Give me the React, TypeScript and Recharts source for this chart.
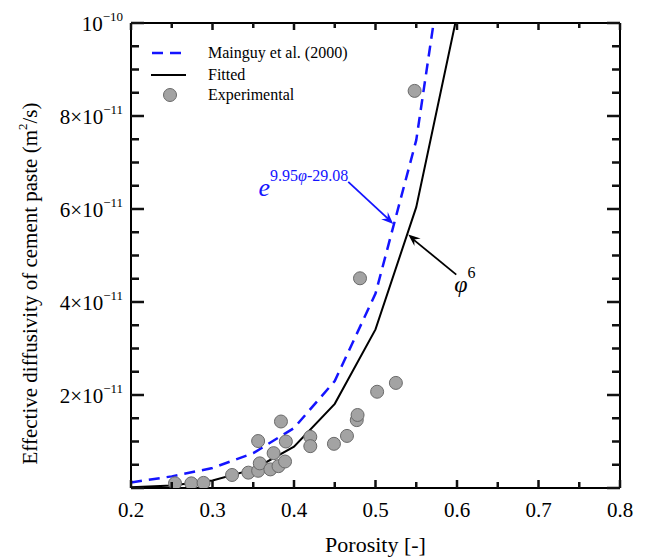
import React from 'react';
import {
  ComposedChart,
  Line,
  Scatter,
  XAxis,
  YAxis,
  Legend,
  Label,
  ReferenceDot
} from 'recharts';

// porosity grid used by both model curves
const phiGrid = [0.2, 0.25, 0.3, 0.35, 0.4, 0.45, 0.5, 0.55, 0.6];
// effective diffusivity, in units of 1e-11 m2/s
const mainguyValues = [0.12, 0.25, 0.43, 0.75, 1.29, 2.3, 4.18, 7.48, 13.4];
const fittedValues = [0.014, 0.053, 0.16, 0.4, 0.89, 1.81, 3.41, 6.04, 10.17];

const expPhi = [
  0.254, 0.274, 0.289, 0.324, 0.344, 0.356, 0.358, 0.356, 0.371, 0.375, 0.381, 0.389,
  0.39, 0.384, 0.42, 0.42, 0.449, 0.465, 0.477, 0.478, 0.502, 0.525, 0.481, 0.548
];
const expD = [
  0.1, 0.1, 0.11, 0.28, 0.33, 0.37, 0.53, 1.01, 0.4, 0.75, 0.47, 0.57,
  1.0, 1.43, 1.1, 0.9, 0.95, 1.12, 1.46, 1.57, 2.07, 2.26, 4.51, 8.54
];

const xTicks = [0.2, 0.25, 0.3, 0.35, 0.4, 0.45, 0.5, 0.55, 0.6, 0.65, 0.7, 0.75, 0.8];
const yTicks = [0, 0.5, 1, 1.5, 2, 2.5, 3, 3.5, 4, 4.5, 5, 5.5, 6, 6.5, 7, 7.5, 8, 8.5, 9, 9.5, 10];
const yMajorLabels: Record<number, [string, string]> = {
  2: ['2×10', '−11'],
  4: ['4×10', '−11'],
  6: ['6×10', '−11'],
  8: ['8×10', '−11'],
  10: ['10', '−10']
};

const mainguyData = phiGrid.map((phi, i) => ({ phi, d: mainguyValues[i] }));
const fittedData = phiGrid.map((phi, i) => ({ phi, d: fittedValues[i] }));
const expData = expPhi.map((phi, i) => ({ phi, d: expD[i] }));

const FONT = "'Liberation Serif', 'Times New Roman', serif";
const BLUE = '#1414ff';
const TICK = '#111111';
const TW = 2.5;

const isMajorX = (v: number) => Math.abs(v * 10 - Math.round(v * 10)) < 1e-6;
const isMajorY = (v: number) => Math.abs(v / 2 - Math.round(v / 2)) < 1e-6;

const BottomTick = (props: any) => {
  const x = Number(props.x);
  const y = Number(props.y);
  const v = Number(props.payload.value);
  const major = isMajorX(v);
  const len = major ? 8 : 6;
  return (
    <g>
      <rect x={x - TW / 2} y={y - len} width={TW} height={len} fill={TICK} />
      {major && (
        <text x={x} y={y + 29} textAnchor="middle" fontSize={21} fontFamily={FONT} fill="#000">
          {v.toFixed(1)}
        </text>
      )}
    </g>
  );
};

const TopTick = (props: any) => {
  const x = Number(props.x);
  const y = Number(props.y);
  const len = isMajorX(Number(props.payload.value)) ? 7 : 5;
  return <rect x={x - TW / 2} y={y} width={TW} height={len} fill={TICK} />;
};

const LeftTick = (props: any) => {
  const x = Number(props.x);
  const y = Number(props.y);
  const v = Number(props.payload.value);
  const len = isMajorY(v) ? 13 : 8;
  const lbl = yMajorLabels[v];
  return (
    <g>
      <rect x={x} y={y - TW / 2} width={len} height={TW} fill={TICK} />
      {lbl && (
        <text x={x - 8} y={y + 8} textAnchor="end" fontSize={21} fontFamily={FONT} fill="#000">
          {lbl[0]}
          <tspan dy={-10} fontSize={13}>{lbl[1]}</tspan>
        </text>
      )}
    </g>
  );
};

const RightTick = (props: any) => {
  const x = Number(props.x);
  const y = Number(props.y);
  const len = isMajorY(Number(props.payload.value)) ? 13 : 8;
  return <rect x={x - len} y={y - TW / 2} width={len} height={TW} fill={TICK} />;
};

const Dot = ({ cx, cy }: any) => (
  <circle cx={cx} cy={cy} r={6.5} fill="#a3a3a3" stroke="#6a6a6a" strokeWidth={1} />
);

const arrowHead = (x: number, y: number, fromX: number, fromY: number, color: string) => {
  const ang = Math.atan2(y - fromY, x - fromX);
  const len = 13;
  const w = 0.38;
  const p1 = [x - len * Math.cos(ang - w), y - len * Math.sin(ang - w)];
  const p2 = [x - len * Math.cos(ang + w), y - len * Math.sin(ang + w)];
  const p3 = [x - len * 0.6 * Math.cos(ang), y - len * 0.6 * Math.sin(ang)];
  return (
    <polygon
      points={`${x},${y} ${p1[0]},${p1[1]} ${p3[0]},${p3[1]} ${p2[0]},${p2[1]}`}
      fill={color}
    />
  );
};

const MainguyNote = ({ cx, cy }: any) => {
  const sx = cx - 45;
  const sy = cy - 42;
  return (
    <g>
      <line x1={sx} y1={sy} x2={cx - 4} y2={cy - 4} stroke={BLUE} strokeWidth={1.8} />
      {arrowHead(cx, cy, sx, sy, BLUE)}
      <text x={cx - 45} y={cy - 28} textAnchor="end" fill={BLUE} fontFamily={FONT}>
        <tspan fontSize={26} fontStyle="italic">e</tspan>
        <tspan dy={-15} fontSize={16}>9.95</tspan>
        <tspan fontSize={16} fontStyle="italic">φ</tspan>
        <tspan fontSize={16}>-29.08</tspan>
      </text>
    </g>
  );
};

const FittedNote = ({ cx, cy }: any) => {
  const sx = cx + 48;
  const sy = cy + 40;
  return (
    <g>
      <line x1={sx} y1={sy} x2={cx + 4} y2={cy + 4} stroke="#000" strokeWidth={1.8} />
      {arrowHead(cx, cy, sx, sy, '#000')}
      <text x={cx + 46} y={cy + 57} fill="#000" fontFamily={FONT}>
        <tspan fontSize={24} fontStyle="italic">φ</tspan>
        <tspan dy={-14} fontSize={16}>6</tspan>
      </text>
    </g>
  );
};

const LegendBox = () => (
  <svg width={240} height={64} style={{ display: 'block' }}>
    <line x1={12} x2={45} y1={10} y2={10} stroke={BLUE} strokeWidth={2.5} strokeDasharray="11 7" />
    <text x={68} y={15} fontSize={16} fontFamily={FONT} fill="#000">Mainguy et al. (2000)</text>
    <line x1={11} x2={46} y1={32} y2={32} stroke="#000" strokeWidth={2} />
    <text x={68} y={37} fontSize={16} fontFamily={FONT} fill="#000">Fitted</text>
    <circle cx={30} cy={52} r={6.5} fill="#a3a3a3" stroke="#6a6a6a" strokeWidth={1} />
    <text x={68} y={57} fontSize={16} fontFamily={FONT} fill="#000">Experimental</text>
  </svg>
);

const XTitle = ({ viewBox }: any) => (
  <text
    x={viewBox.x + viewBox.width / 2}
    y={viewBox.y + 64}
    textAnchor="middle"
    fontSize={22}
    fontFamily={FONT}
    fill="#000"
  >
    Porosity [-]
  </text>
);

const YTitle = ({ viewBox }: any) => {
  const cx = 30;
  const cy = viewBox.y + viewBox.height / 2 + 28;
  return (
    <text
      x={cx}
      y={cy}
      transform={`rotate(-90, ${cx}, ${cy})`}
      textAnchor="middle"
      dominantBaseline="central"
      fontSize={21}
      fontFamily={FONT}
      fill="#000"
    >
      Effective diffusivity of cement paste (m
      <tspan dy={-8} fontSize={13}>2</tspan>
      <tspan dy={8}>/s)</tspan>
    </text>
  );
};

export default function App() {
  return (
    <div style={{ position: 'absolute', left: 0, top: 0, background: '#fff' }}>
      <ComposedChart width={651} height={557} margin={{ top: 22, right: 30, bottom: 0, left: 0 }}>
        <XAxis
          xAxisId={0}
          dataKey="phi"
          type="number"
          domain={[0.2, 0.8]}
          ticks={xTicks}
          interval={0}
          allowDataOverflow
          height={69}
          tickSize={0}
          tickMargin={0}
          tickLine={false}
          tick={<BottomTick />}
          axisLine={{ stroke: '#000', strokeWidth: 2 }}
        >
          <Label content={<XTitle />} />
        </XAxis>
        <XAxis
          xAxisId="top"
          orientation="top"
          dataKey="phi"
          type="number"
          domain={[0.2, 0.8]}
          ticks={xTicks}
          interval={0}
          allowDataOverflow
          height={1}
          tickSize={0}
          tickMargin={0}
          tickLine={false}
          tick={<TopTick />}
          axisLine={{ stroke: '#000', strokeWidth: 2 }}
        />
        <YAxis
          yAxisId={0}
          type="number"
          domain={[0, 10]}
          ticks={yTicks}
          interval={0}
          allowDataOverflow
          width={131}
          tickSize={0}
          tickMargin={0}
          tickLine={false}
          tick={<LeftTick />}
          axisLine={{ stroke: '#000', strokeWidth: 2 }}
        >
          <Label content={<YTitle />} />
        </YAxis>
        <YAxis
          yAxisId="right"
          orientation="right"
          type="number"
          domain={[0, 10]}
          ticks={yTicks}
          interval={0}
          allowDataOverflow
          width={1}
          tickSize={0}
          tickMargin={0}
          tickLine={false}
          tick={<RightTick />}
          axisLine={{ stroke: '#000', strokeWidth: 2 }}
        />
        <Line
          data={mainguyData}
          dataKey="d"
          type="linear"
          stroke={BLUE}
          strokeWidth={2.5}
          strokeDasharray="11 7"
          dot={false}
          activeDot={false}
          isAnimationActive={false}
          name="Mainguy et al. (2000)"
        />
        <Line
          data={fittedData}
          dataKey="d"
          type="linear"
          stroke="#000"
          strokeWidth={2}
          dot={false}
          activeDot={false}
          isAnimationActive={false}
          name="Fitted"
        />
        <Scatter
          data={expData}
          dataKey="d"
          shape={<Dot />}
          isAnimationActive={false}
          name="Experimental"
        />
        <ReferenceDot x={0.5218} y={5.68} shape={<MainguyNote />} ifOverflow="visible" />
        <ReferenceDot x={0.5402} y={5.45} shape={<FittedNote />} ifOverflow="visible" />
        <Legend
          layout="vertical"
          align="center"
          verticalAlign="middle"
          content={<LegendBox />}
          wrapperStyle={{ left: 140, top: 43, width: 240, height: 64 }}
        />
      </ComposedChart>
    </div>
  );
}
